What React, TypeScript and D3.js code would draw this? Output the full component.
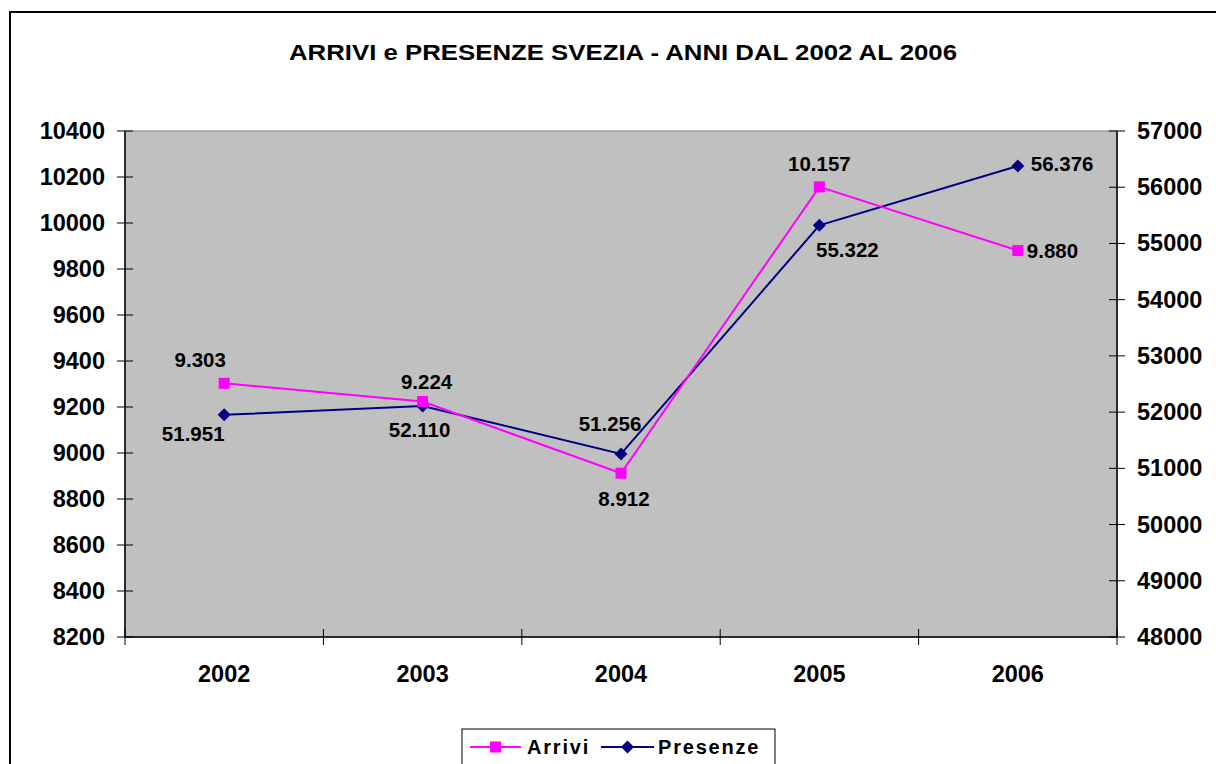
import * as d3 from 'd3';

const years = ['2002', '2003', '2004', '2005', '2006'];
const arrivi = [9303, 9224, 8912, 10157, 9880];
const presenze = [51951, 52110, 51256, 55322, 56376];
const leftTicks = [8200, 8400, 8600, 8800, 9000, 9200, 9400, 9600, 9800, 10000, 10200, 10400];
const rightTicks = [48000, 49000, 50000, 51000, 52000, 53000, 54000, 55000, 56000, 57000];

// label placement relative to each marker: [dx, dy, anchor]
const arriviLabelPos: [number, number, string][] = [
  [-24, -24, 'middle'], [4, -20, 'middle'], [3, 25, 'middle'], [0, -23, 'middle'], [9, 0, 'start'],
];
const presenzeLabelPos: [number, number, string][] = [
  [-31, 19, 'middle'], [-3, 24, 'middle'], [-11, -30, 'middle'], [28, 24, 'middle'], [13, -3, 'start'],
];

const FONT = '"Liberation Sans", Arial, sans-serif';
const fmt = (v: number) => d3.format(',')(v).replace(/,/g, '.');

export default function App() {
  const W = 1216;
  const H = 764;
  const plot = { left: 125, right: 1117, top: 131, bottom: 637 };

  const x = d3.scaleBand<string>().domain(years).range([plot.left, plot.right]);
  const yL = d3.scaleLinear().domain([8200, 10400]).range([plot.bottom, plot.top]);
  const yR = d3.scaleLinear().domain([48000, 57000]).range([plot.bottom, plot.top]);
  const cx = (d: string) => (x(d) ?? 0) + x.bandwidth() / 2;

  const lineA = d3.line<number>().x((_, i) => cx(years[i])).y(d => yL(d));
  const lineP = d3.line<number>().x((_, i) => cx(years[i])).y(d => yR(d));
  const diamond = (s: number) => `M0,${-s}L${s},0L0,${s}L${-s},0Z`;

  const boundaries = years.map(y => x(y) ?? 0).concat([plot.right]);

  return (
    <div style={{ position: 'absolute', left: 0, top: 0 }}>
      <svg width={W} height={H} style={{ display: 'block', background: '#fff' }} fontFamily={FONT}>
        <rect x={10} y={12} width={1230} height={800} fill="#fff" stroke="#000" strokeWidth={2} />

        <text x={623} y={52} textAnchor="middle" dominantBaseline="central" fontSize={22} fontWeight="bold"
          textLength={668} lengthAdjust="spacingAndGlyphs">
          ARRIVI e PRESENZE SVEZIA - ANNI DAL 2002 AL 2006
        </text>

        <rect x={plot.left} y={plot.top} width={plot.right - plot.left} height={plot.bottom - plot.top}
          fill="#C0C0C0" stroke="#808080" strokeWidth={1} />

        {/* axes */}
        <line x1={plot.left} x2={plot.left} y1={plot.top} y2={plot.bottom} stroke="#000" strokeWidth={1.5} />
        <line x1={plot.right} x2={plot.right} y1={plot.top} y2={plot.bottom} stroke="#000" strokeWidth={1.5} />
        <line x1={plot.left} x2={plot.right} y1={plot.bottom} y2={plot.bottom} stroke="#000" strokeWidth={1.5} />

        {leftTicks.map(t => (
          <g key={'l' + t}>
            <line x1={plot.left - 8} x2={plot.left + 8} y1={yL(t)} y2={yL(t)} stroke="#000" strokeWidth={1} />
            <text x={105} y={yL(t)} textAnchor="end" dominantBaseline="central" fontSize={23.5} fontWeight="bold">{t}</text>
          </g>
        ))}
        {rightTicks.map(t => (
          <g key={'r' + t}>
            <line x1={plot.right - 8} x2={plot.right + 8} y1={yR(t)} y2={yR(t)} stroke="#000" strokeWidth={1} />
            <text x={1137} y={yR(t)} textAnchor="start" dominantBaseline="central" fontSize={23.5} fontWeight="bold">{t}</text>
          </g>
        ))}
        {boundaries.map((b, i) => (
          <line key={'b' + i} x1={b} x2={b} y1={plot.bottom - 8} y2={plot.bottom + 8} stroke="#000" strokeWidth={1} />
        ))}
        {years.map(y => (
          <text key={'x' + y} x={cx(y)} y={674} textAnchor="middle" dominantBaseline="central" fontSize={23.5} fontWeight="bold">{y}</text>
        ))}

        {/* series */}
        <path d={lineP(presenze) ?? ''} fill="none" stroke="#000080" strokeWidth={2} />
        <path d={lineA(arrivi) ?? ''} fill="none" stroke="#FF00FF" strokeWidth={2} />
        {presenze.map((v, i) => (
          <path key={'pm' + i} transform={`translate(${cx(years[i])},${yR(v)})`} d={diamond(6.5)} fill="#000080" />
        ))}
        {arrivi.map((v, i) => (
          <rect key={'am' + i} x={cx(years[i]) - 5.5} y={yL(v) - 5.5} width={11} height={11} fill="#FF00FF" />
        ))}

        {arrivi.map((v, i) => (
          <text key={'al' + i} x={cx(years[i]) + arriviLabelPos[i][0]} y={yL(v) + arriviLabelPos[i][1]}
            textAnchor={arriviLabelPos[i][2] as any} dominantBaseline="central" fontSize={20.5} fontWeight="bold">{fmt(v)}</text>
        ))}
        {presenze.map((v, i) => (
          <text key={'pl' + i} x={cx(years[i]) + presenzeLabelPos[i][0]} y={yR(v) + presenzeLabelPos[i][1]}
            textAnchor={presenzeLabelPos[i][2] as any} dominantBaseline="central" fontSize={20.5} fontWeight="bold">{fmt(v)}</text>
        ))}

        {/* legend */}
        <g>
          <rect x={462} y={729} width={313} height={60} fill="#fff" stroke="#000" strokeWidth={1} />
          <line x1={470} x2={521} y1={747} y2={747} stroke="#FF00FF" strokeWidth={2} />
          <rect x={490} y={741.5} width={11} height={11} fill="#FF00FF" />
          <text x={527} y={747} dominantBaseline="central" fontSize={20} fontWeight="bold" letterSpacing={1.8}>Arrivi</text>
          <line x1={601} x2={654} y1={747} y2={747} stroke="#000080" strokeWidth={2} />
          <path transform="translate(627.5,747)" d={diamond(6.5)} fill="#000080" />
          <text x={658} y={747} dominantBaseline="central" fontSize={20} fontWeight="bold" letterSpacing={1.8}>Presenze</text>
        </g>
      </svg>
    </div>
  );
}
